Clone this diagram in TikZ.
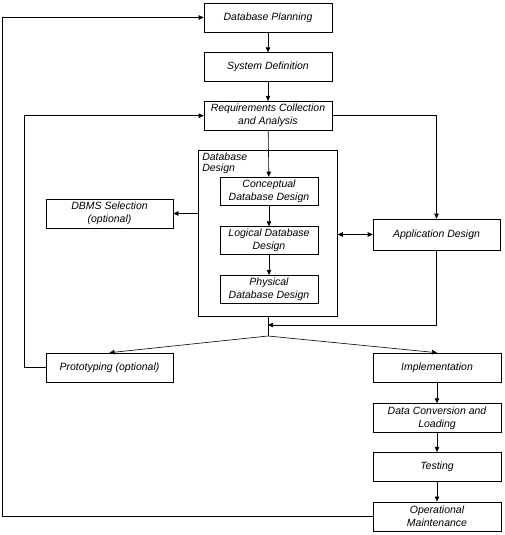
\documentclass[tikz,border=0pt]{standalone}
\usepackage{fontspec}
\setmainfont{Liberation Sans}
\usetikzlibrary{positioning,arrows.meta}

\begin{document}
\begin{tikzpicture}[x=1pt, y=-1pt, node distance={20pt}, line width=0.6pt,
  >={Triangle[length=5pt,width=4.5pt]},
  main/.style = {draw, rectangle, align=center, inner sep=2pt, minimum width=128pt, minimum height=29pt, font=\fontsize{10.5}{13}\selectfont\itshape},
  sub/.style = {main, minimum width=98pt, minimum height=28pt}]
\useasboundingbox (0,0) rectangle (504,535);
\node[main] (plan) at (268,17.5) {Database Planning};
\node[main] (sys) [below=20pt of plan] {System Definition};
\node[main] (req) [below=19pt of sys] {Requirements Collection\\and Analysis};
\node[draw, minimum width=139pt, minimum height=166pt] (design) at (268,233) {};
\node[align=left, anchor=north west, inner sep=0pt, font=\fontsize{10.5}{11}\selectfont\itshape] (designlabel) at (202,153) {Database\\Design};
\node[sub] (concept) at (269,191) {Conceptual\\Database Design};
\node[sub] (logic) [below=21pt of concept] {Logical Database\\Design};
\node[sub] (phys) [below=20pt of logic] {Physical\\Database Design};
\node[main, minimum width=127pt] (dbms) at (109.5,213.5) {DBMS Selection\\(optional)};
\node[main, minimum width=127pt, minimum height=31pt] (app) at (436.5,234.5) {Application Design};
\node[main, minimum width=127pt] (proto) at (109.5,367.5) {Prototyping (optional)};
\node[main] (impl) at (437,367.5) {Implementation};
\node[main] (conv) [below=21pt of impl] {Data Conversion and\\Loading};
\node[main] (test) [below=19pt of conv] {Testing};
\node[main] (maint) [below=20pt of test] {Operational\\Maintenance};
\coordinate (split) at (268,336);
\coordinate (join) at (268,325);
\draw[->] (plan) -- (sys);
\draw[->] (sys) -- (req);
\draw[->] (req) -- (concept);
\draw[->] (concept) -- (logic);
\draw[->] (logic) -- (phys);
\draw[->] (design.west |- dbms.east) -- (dbms.east);
\draw[<->] (design.east |- app.west) -- (app.west);
\draw[->] (req.east) -| (app.north);
\draw (design.south) -- (split);
\draw[->] (app.south) |- (join);
\draw[->] (split) -- (proto.north);
\draw[->] (split) -- (impl.north);
\draw[->] (impl) -- (conv);
\draw[->] (conv) -- (test);
\draw[->] (test) -- (maint);
\draw[->] (maint.west) -- ++(-370,0) |- (plan.west);
\draw[->] (proto.west) -- ++(-21,0) |- (req.west);
\end{tikzpicture}
\end{document}
